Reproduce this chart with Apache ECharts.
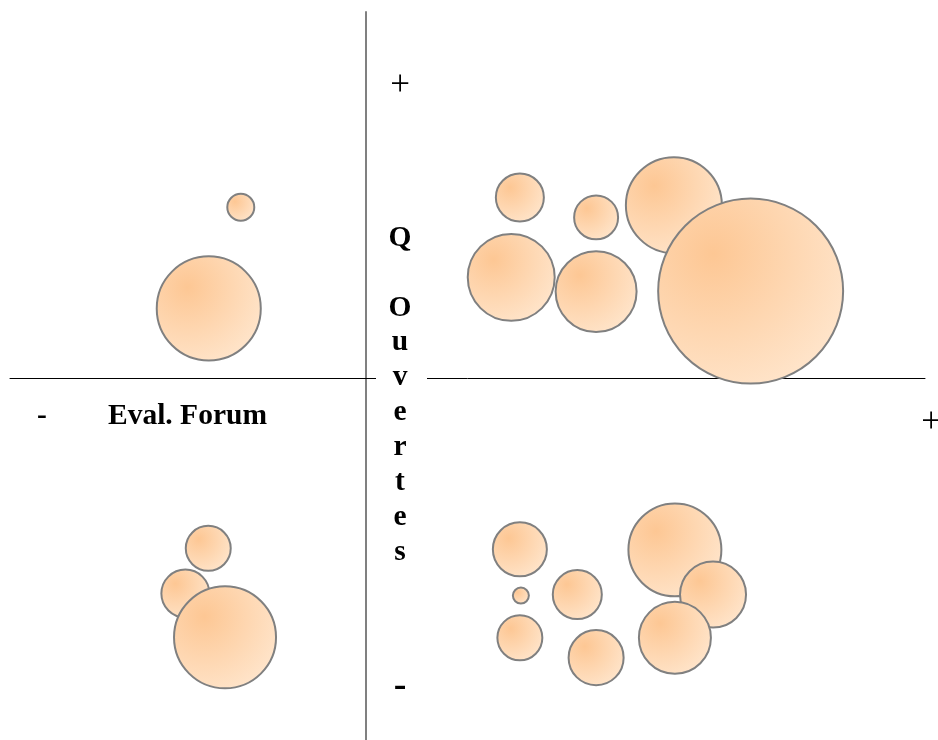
<!DOCTYPE html>
<html><head><meta charset="utf-8">
<script src="https://cdn.jsdelivr.net/npm/echarts@6/dist/echarts.min.js"></script>
<style>html,body{margin:0;padding:0;background:#fff}#c{width:938px;height:740px}</style>
</head><body><div id="c"></div>
<script>
// Bubble data (x = Eval. Forum, y = Q Ouvertes, r = bubble radius in axis units), in drawing order
const bubbleX = [-2.46, -3.09, 3.03, 4.53, 6.06, 2.86, 4.53, 7.57, -3.55, -3.10, -2.77, 3.03, 3.05, 4.16, 3.03, 4.53, 6.08, 6.83, 6.08];
const bubbleY = [3.36, 1.37, 3.55, 3.16, 3.40, 1.98, 1.70, 1.71, -4.24, -3.35, -5.10, -3.37, -4.28, -4.26, -5.11, -5.50, -3.38, -4.26, -5.11];
const bubbleR = [0.285, 1.043, 0.492, 0.452, 0.964, 0.875, 0.816, 1.839, 0.492, 0.462, 1.023, 0.551, 0.177, 0.502, 0.462, 0.561, 0.934, 0.669, 0.728];
const xRange = [-7, 11];
const yRange = [-7.12, 7.2];
const xAxisName = 'Eval. Forum';
const yAxisTitle = 'Q';
const yAxisLetters = ['O', 'u', 'v', 'e', 'r', 't', 'e', 's'];

const chart = echarts.init(document.getElementById('c'), null, {renderer: 'canvas'});
const gridLeft = 10, gridRight = 13, gridTop = 12, gridBottom = 0;
const pxPerUnit = (938 - gridLeft - gridRight) / (xRange[1] - xRange[0]);
const data = bubbleX.map((x, i) => [x, bubbleY[i], bubbleR[i]]);
const font = '"Liberation Serif", "Times New Roman", serif';
const labelFont = 'bold 29.5px ' + font;

const graphics = [
  {type: 'rect', left: 376, top: 374, shape: {width: 51, height: 9}, style: {fill: '#fff'}, z: 50},
  {type: 'text', x: 42, y: 416, style: {text: '-', font: labelFont, fill: '#000', align: 'center', verticalAlign: 'middle'}, z: 60},
  {type: 'text', x: 108, y: 416, style: {text: xAxisName, font: labelFont, fill: '#000', align: 'left', verticalAlign: 'middle'}, z: 60},
  {type: 'text', x: 931, y: 423, style: {text: '+', font: '35px ' + font, fill: '#000', align: 'center', verticalAlign: 'middle'}, z: 60},
  {type: 'text', x: 400, y: 86, style: {text: '+', font: '35px ' + font, fill: '#000', align: 'center', verticalAlign: 'middle'}, z: 60},
  {type: 'text', x: 400, y: 686, style: {text: '-', font: 'bold 38px ' + font, fill: '#000', align: 'center', verticalAlign: 'middle'}, z: 60},
  {type: 'text', x: 400, y: 238, style: {text: yAxisTitle, font: labelFont, fill: '#000', align: 'center', verticalAlign: 'middle'}, z: 60}
];
yAxisLetters.forEach((ch, i) => {
  graphics.push({type: 'text', x: 400, y: 308 + i * 34.85, style: {text: ch, font: labelFont, fill: '#000', align: 'center', verticalAlign: 'middle'}, z: 60});
});

chart.setOption({
  animation: false,
  backgroundColor: '#fff',
  grid: {left: gridLeft, right: gridRight, top: gridTop, bottom: gridBottom, containLabel: false},
  xAxis: {type: 'value', min: xRange[0], max: xRange[1],
    axisLine: {show: true, onZero: true, lineStyle: {color: '#000', width: 1}},
    axisTick: {show: false}, axisLabel: {show: false}, splitLine: {show: false}},
  yAxis: {type: 'value', min: yRange[0], max: yRange[1],
    axisLine: {show: true, onZero: true, lineStyle: {color: '#808080', width: 2}},
    axisTick: {show: false}, axisLabel: {show: false}, splitLine: {show: false}},
  series: [{
    type: 'scatter',
    data: data,
    symbol: 'circle',
    symbolSize: v => v[2] * 2 * pxPerUnit - 2,
    itemStyle: {
      color: {type: 'radial', x: 0.3, y: 0.3, r: 0.85,
        colorStops: [{offset: 0, color: '#FDC794'}, {offset: 1, color: '#FFE7CF'}]},
      borderColor: '#808080', borderWidth: 2, opacity: 1
    },
    emphasis: {disabled: true}
  }],
  graphic: graphics
});
</script></body></html>
